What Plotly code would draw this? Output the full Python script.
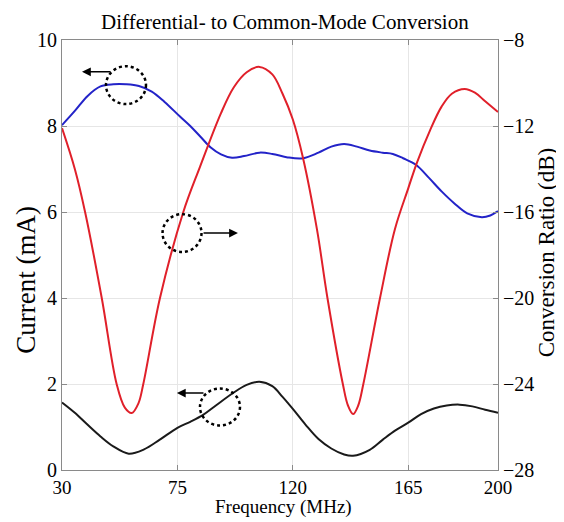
import plotly.graph_objects as go

# ---- data ----
freq_blue = [30, 35, 40, 45, 50, 55, 60, 65, 70, 76, 80, 84, 88, 92, 96.3, 101, 107, 112, 118, 124,
             130, 135, 140, 145, 150, 155, 159, 163, 168, 173, 178, 183, 188, 193.7, 197, 200]
current_blue = [8.02, 8.35, 8.7, 8.92, 8.97, 8.97, 8.93, 8.8, 8.56, 8.22, 8.0, 7.75, 7.5, 7.34, 7.26, 7.3,
                7.38, 7.35, 7.27, 7.25, 7.38, 7.52, 7.58, 7.52, 7.43, 7.38, 7.35, 7.25, 7.1, 6.8, 6.48,
                6.2, 5.97, 5.88, 5.92, 6.02]

freq_black = [30, 35, 40, 45, 50, 56, 62, 68, 75, 80, 85, 90, 96.7, 102, 107, 112, 116, 120, 125, 130,
              135, 140, 143.5, 150, 155, 160, 165, 170, 175, 180, 185, 190, 195, 200]
current_black = [1.57, 1.33, 1.05, 0.78, 0.55, 0.38, 0.48, 0.7, 0.98, 1.12, 1.28, 1.5, 1.79, 1.98, 2.05,
                 1.95, 1.7, 1.42, 1.05, 0.72, 0.5, 0.36, 0.33, 0.47, 0.7, 0.92, 1.1, 1.3, 1.43, 1.5, 1.52,
                 1.48, 1.4, 1.33]

freq_red = [30, 35, 39, 45.5, 51.3, 54.5, 57.2, 59.8, 61.7, 68.2, 77.3, 83.8, 92, 97, 102, 107, 112, 116,
            120, 124, 129.4, 133.5, 139.5, 141.5, 143.5, 145.5, 147.5, 154, 159.8, 165, 168.4, 173.5,
            178, 182, 187, 191, 195, 200]
ratio_red = [-12.1, -14.0, -16.0, -20.0, -24.0, -25.1, -25.35, -24.9, -24.0, -20.0, -16.0, -13.9, -11.4,
             -10.2, -9.5, -9.25, -9.6, -10.5, -11.7, -13.5, -16.8, -20.0, -24.0, -25.0, -25.4, -25.0,
             -24.0, -20.0, -16.8, -14.9, -13.7, -12.2, -11.1, -10.5, -10.28, -10.45, -10.85, -11.35]

x_ticks = [30, 75, 120, 165, 200]
y_ticks = [0, 2, 4, 6, 8, 10]
y2_ticks = [-28, -24, -20, -16, -12, -8]

FONT = "Liberation Serif, Times New Roman, serif"
AXC = "#8a8a8a"
GRID = "#e6e6e6"
SMOOTH = 1.0

fig = go.Figure()
fig.add_trace(go.Scatter(x=freq_blue, y=current_blue, mode="lines",
                         line=dict(color="#2323c8", width=2, shape="spline", smoothing=SMOOTH),
                         showlegend=False))
fig.add_trace(go.Scatter(x=freq_black, y=current_black, mode="lines",
                         line=dict(color="#1a1a1a", width=2, shape="spline", smoothing=SMOOTH),
                         showlegend=False))
fig.add_trace(go.Scatter(x=freq_red, y=ratio_red, mode="lines", yaxis="y2",
                         line=dict(color="#e0202a", width=2, shape="spline", smoothing=SMOOTH),
                         showlegend=False))

# dotted circles
circles = [(47.15, 62.75, 8.51, 9.39), (69.2, 84.4, 5.07, 5.95), (83.8, 99.4, 1.035, 1.895)]
for x0, x1, y0, y1 in circles:
    fig.add_shape(type="circle", xref="x", yref="y", x0=x0, x1=x1, y0=y0, y1=y1,
                  line=dict(color="black", width=2.5, dash="dot"))

# arrows (head, tail)
arrows = [((37.8, 9.26), (49.5, 9.26)), ((98.6, 5.51), (84.6, 5.51)), ((74.8, 1.79), (85.75, 1.79))]
for (hx, hy), (tx, ty) in arrows:
    fig.add_annotation(x=hx, y=hy, ax=tx, ay=ty, xref="x", yref="y", axref="x", ayref="y",
                       text="", showarrow=True, arrowhead=2, arrowsize=1.1, arrowwidth=1.6,
                       arrowcolor="black")

# axis titles as positioned text
fig.add_annotation(text="Current (mA)", xref="paper", yref="paper", x=-0.083, y=0.442,
                   textangle=-90, showarrow=False, xanchor="center", yanchor="middle",
                   font=dict(size=27, family=FONT, color="black"))
fig.add_annotation(text="Conversion Ratio (dB)", xref="paper", yref="paper", x=1.113, y=0.507,
                   textangle=-90, showarrow=False, xanchor="center", yanchor="middle",
                   font=dict(size=23, family=FONT, color="black"))
fig.add_annotation(text="Frequency (MHz)", xref="paper", yref="paper", x=0.507, y=-0.086,
                   showarrow=False, xanchor="center", yanchor="middle",
                   font=dict(size=19, family=FONT, color="black"))

fig.update_layout(
    width=556, height=514,
    margin=dict(l=54, r=66, t=32, b=52, autoexpand=False),
    paper_bgcolor="white", plot_bgcolor="white",
    font=dict(family=FONT, color="black"),
    title=dict(text="Differential- to Common-Mode Conversion", x=0.498, xanchor="center",
               y=1 - 14 / 514, yanchor="middle", yref="container", font=dict(size=21, family=FONT)),
    xaxis=dict(range=[30, 200], tickvals=x_ticks, ticktext=[str(v) for v in x_ticks],
               ticks="inside", ticklen=5, tickcolor=AXC, showline=True, linecolor=AXC, linewidth=1,
               mirror="ticks", showgrid=True, gridcolor=GRID, gridwidth=1, zeroline=False,
               tickfont=dict(size=19, family=FONT), automargin=False),
    yaxis=dict(range=[0, 10], tickvals=y_ticks, ticks="inside", ticklen=5, tickcolor=AXC,
               showline=True, linecolor=AXC, linewidth=1, showgrid=True, gridcolor=GRID,
               zeroline=False, tickfont=dict(size=20, family=FONT), automargin=False),
    yaxis2=dict(range=[-28, -8], tickvals=y2_ticks, overlaying="y", side="right", ticks="inside",
                ticklen=5, tickcolor=AXC, showline=True, linecolor=AXC, linewidth=1, showgrid=False,
                zeroline=False, tickfont=dict(size=20, family=FONT), automargin=False),
)

fig.write_html("out.html")
